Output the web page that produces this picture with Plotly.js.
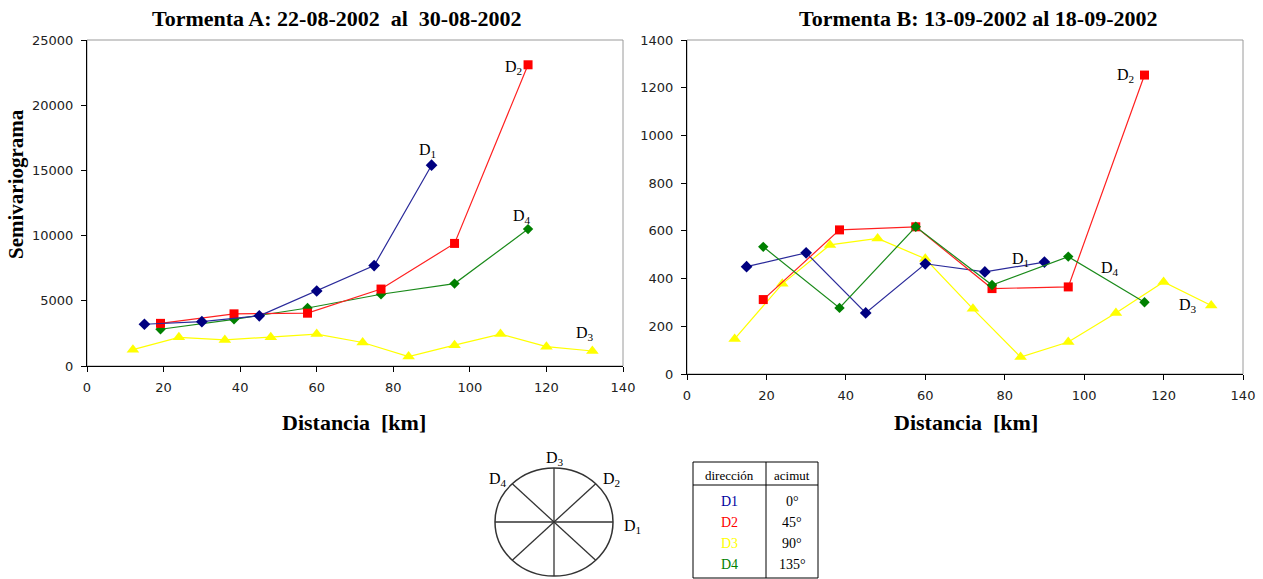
<!DOCTYPE html>
<html>
<head>
<meta charset="utf-8">
<script src="https://cdn.plot.ly/plotly-3.0.1.min.js"></script>
<style>html,body{margin:0;padding:0;background:#fff}#chart{width:1263px;height:579px}</style>
</head>
<body>
<div id="chart"></div>
<script>
// ---- Tormenta A ----
const A_D1_x = [15, 30, 45, 60, 75, 90];
const A_D1_y = [3200, 3400, 3850, 5750, 7700, 15400];
const A_D2_x = [19.2, 38.4, 57.6, 76.8, 96, 115.2];
const A_D2_y = [3270, 4000, 4050, 5900, 9400, 23100];
const A_D3_x = [12, 24, 36, 48, 60, 72, 84, 96, 108, 120, 132];
const A_D3_y = [1250, 2200, 2000, 2200, 2450, 1800, 720, 1600, 2450, 1480, 1150];
const A_D4_x = [19.2, 38.4, 57.6, 76.8, 96, 115.2];
const A_D4_y = [2820, 3580, 4450, 5500, 6320, 10500];
// ---- Tormenta B ----
const B_D1_x = [15, 30, 45, 60, 75, 90];
const B_D1_y = [450, 508, 256, 462, 428, 469];
const B_D2_x = [19.2, 38.4, 57.6, 76.8, 96, 115.2];
const B_D2_y = [312, 604, 617, 358, 365, 1253];
const B_D3_x = [12, 24, 36, 48, 60, 72, 84, 96, 108, 120, 132];
const B_D3_y = [147, 378, 541, 568, 483, 273, 71, 134, 256, 386, 287];
const B_D4_x = [19.2, 38.4, 57.6, 76.8, 96, 115.2];
const B_D4_y = [533, 277, 617, 373, 492, 301];
// ---- table ----
const direcciones = ['D1', 'D2', 'D3', 'D4'];
const acimutes = ['0°', '45°', '90°', '135°'];
const tickX = [0, 20, 40, 60, 80, 100, 120, 140];

const colors = {D1: '#000080', D2: '#ff0000', D3: '#ffff00', D4: '#008000'};
const lineColors = {D1: '#2a2a9a', D2: '#ff2020', D3: '#ffff00', D4: '#1a8a1a'};

const W = 1263, H = 579;
const px = x => x / W;
const py = y => 1 - y / H;

function tr(x, y, name, xa, ya) {
  const sym = {D1: 'diamond', D2: 'square', D3: 'triangle-up', D4: 'diamond'}[name];
  const sz = {D1: 9, D2: 9, D3: 11, D4: 8}[name];
  return {x: x, y: y, xaxis: xa, yaxis: ya, type: 'scatter', mode: 'lines+markers',
    line: {color: lineColors[name], width: 1.2},
    marker: {symbol: sym, size: sz, color: colors[name]}, showlegend: false, hoverinfo: 'x+y'};
}

const data = [
  tr(A_D3_x, A_D3_y, 'D3', 'x', 'y'),
  tr(A_D4_x, A_D4_y, 'D4', 'x', 'y'),
  tr(A_D2_x, A_D2_y, 'D2', 'x', 'y'),
  tr(A_D1_x, A_D1_y, 'D1', 'x', 'y'),
  tr(B_D3_x, B_D3_y, 'D3', 'x2', 'y2'),
  tr(B_D1_x, B_D1_y, 'D1', 'x2', 'y2'),
  tr(B_D2_x, B_D2_y, 'D2', 'x2', 'y2'),
  tr(B_D4_x, B_D4_y, 'D4', 'x2', 'y2')
];

const serif = 'Liberation Serif, Times New Roman, serif';
const tickFont = {family: 'DejaVu Sans, sans-serif', size: 13, color: '#222'};

function axisX(dom) {
  return {domain: dom, range: [0, 140], tickvals: tickX, showline: true, linecolor: '#000', linewidth: 1,
    ticks: 'outside', ticklen: 5, tickcolor: '#000', showgrid: false, zeroline: false, tickfont: tickFont,
    ticklabelstandoff: 4, fixedrange: true};
}
function axisY(dom, max, dt) {
  return {domain: dom, range: [0, max], dtick: dt, tick0: 0, tickformat: 'd', showline: true, linecolor: '#000', linewidth: 1,
    ticks: 'outside', ticklen: 5, tickcolor: '#000', showgrid: false, zeroline: false, tickfont: tickFont,
    ticklabelstandoff: 5, fixedrange: true};
}

const xdA = [px(87), px(623)], ydA = [py(366), py(40)];
const xdB = [px(687), px(1243)], ydB = [py(374), py(40)];

const shapes = [
  {type: 'rect', xref: 'paper', yref: 'paper', x0: xdA[0], x1: xdA[1], y0: ydA[0], y1: ydA[1], line: {color: '#9a9a9a', width: 1}, layer: 'below'},
  {type: 'rect', xref: 'paper', yref: 'paper', x0: xdB[0], x1: xdB[1], y0: ydB[0], y1: ydB[1], line: {color: '#9a9a9a', width: 1}, layer: 'below'}
];
// compass
const cx = 554, cy = 522, rx = 59, ry = 54;
shapes.push({type: 'circle', xref: 'paper', yref: 'paper', x0: px(cx - rx), x1: px(cx + rx), y0: py(cy + ry), y1: py(cy - ry), line: {color: '#333', width: 1.5}});
const d = Math.SQRT1_2;
[[cx - rx, cy, cx + rx, cy], [cx, cy - ry, cx, cy + ry],
 [cx - rx * d, cy - ry * d, cx + rx * d, cy + ry * d], [cx - rx * d, cy + ry * d, cx + rx * d, cy - ry * d]].forEach(l => {
  shapes.push({type: 'line', xref: 'paper', yref: 'paper', x0: px(l[0]), y0: py(l[1]), x1: px(l[2]), y1: py(l[3]), line: {color: '#333', width: 1.3}});
});
// table
const tL = 693, tR = 818, tT = 462, tH = 485, tB = 578, tC = 766;
shapes.push({type: 'rect', xref: 'paper', yref: 'paper', x0: px(tL), x1: px(tR), y0: py(tB), y1: py(tT), line: {color: '#000', width: 1}});
shapes.push({type: 'line', xref: 'paper', yref: 'paper', x0: px(tL), x1: px(tR), y0: py(tH), y1: py(tH), line: {color: '#000', width: 1}});
shapes.push({type: 'line', xref: 'paper', yref: 'paper', x0: px(tC), x1: px(tC), y0: py(tB), y1: py(tT), line: {color: '#000', width: 1}});

const annotations = [];
function ann(text, x, y, size, opts) {
  annotations.push(Object.assign({text: text, x: px(x), y: py(y), xref: 'paper', yref: 'paper', showarrow: false,
    font: {family: serif, size: size, color: '#000'}, xanchor: 'center', yanchor: 'middle'}, opts || {}));
}
ann('<b>Tormenta A: 22-08-2002\u00a0 al\u00a0 30-08-2002</b>', 337, 18, 22);
ann('<b>Tormenta B: 13-09-2002 al 18-09-2002</b>', 979, 18, 22);
ann('<b>Distancia\u00a0 [km]</b>', 354, 422, 22);
ann('<b>Distancia\u00a0 [km]</b>', 966, 422, 22);
ann('<b>Semivariograma</b>', 16, 184, 21, {textangle: -90});
// series labels (data coords)
function lab(text, x, y, xa, ya) {
  annotations.push({text: text, x: x, y: y, xref: xa, yref: ya, showarrow: false,
    font: {family: serif, size: 16, color: '#000'}, xanchor: 'center', yanchor: 'middle'});
}
lab('D<sub>1</sub>', 89, 16500, 'x', 'y');
lab('D<sub>2</sub>', 111.5, 22900, 'x', 'y');
lab('D<sub>4</sub>', 113.6, 11500, 'x', 'y');
lab('D<sub>3</sub>', 130, 2500, 'x', 'y');
lab('D<sub>2</sub>', 110.3, 1250, 'x2', 'y2');
lab('D<sub>1</sub>', 84, 480, 'x2', 'y2');
lab('D<sub>4</sub>', 106.5, 444, 'x2', 'y2');
lab('D<sub>3</sub>', 126.2, 289, 'x2', 'y2');
// compass labels
ann('D<sub>3</sub>', 555, 458, 16);
ann('D<sub>2</sub>', 611, 479, 16);
ann('D<sub>4</sub>', 498, 479, 16);
ann('D<sub>1</sub>', 632, 526, 16);
// table text
ann('dirección', (tL + tC) / 2, 475, 13);
ann('acimut', (tC + tR) / 2, 475, 13);
const rowY = [501, 522, 543, 564];
direcciones.forEach((dname, i) => {
  ann(dname, (tL + tC) / 2, rowY[i], 14, {font: {family: serif, size: 14, color: colors[dname] === '#000080' ? '#0000a0' : colors[dname]}});
  ann(acimutes[i], (tC + tR) / 2, rowY[i], 14);
});

const layout = {
  width: W, height: H, margin: {l: 0, r: 0, t: 0, b: 0},
  paper_bgcolor: '#fff', plot_bgcolor: '#fff', showlegend: false,
  xaxis: Object.assign(axisX(xdA), {anchor: 'y'}), yaxis: Object.assign(axisY(ydA, 25000, 5000), {anchor: 'x'}),
  xaxis2: Object.assign(axisX(xdB), {anchor: 'y2'}), yaxis2: Object.assign(axisY(ydB, 1400, 200), {anchor: 'x2'}),
  shapes: shapes, annotations: annotations
};

Plotly.newPlot('chart', data, layout, {displayModeBar: false, staticPlot: true});
</script>
</body>
</html>
